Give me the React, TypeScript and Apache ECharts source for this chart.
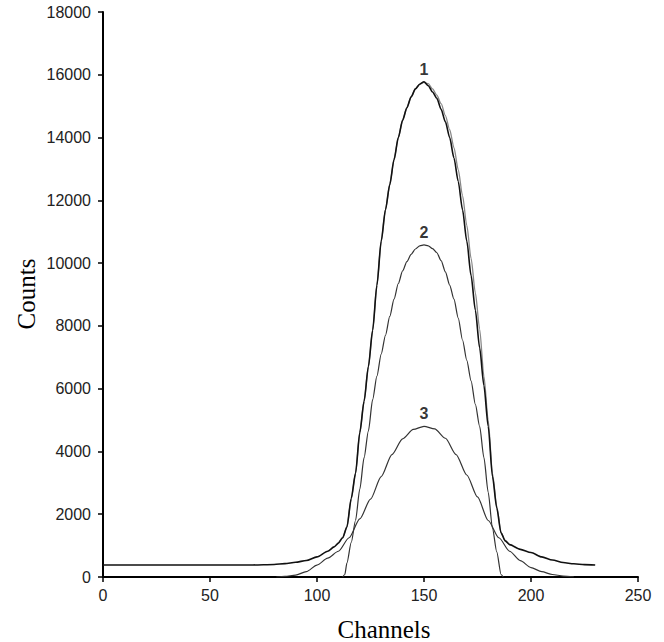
import React, { useEffect, useRef } from "react";
import * as echarts from "echarts";

const xTicks = [0, 50, 100, 150, 200, 250];
const yTicks = [0, 2000, 4000, 6000, 8000, 10000, 12000, 14000, 16000, 18000];

const channels1 = [0, 10, 20, 30, 40, 50, 60, 70, 80, 85, 90, 95, 100, 105, 108, 110, 112, 114, 116, 118, 120, 122, 124, 126, 128, 130, 132, 134, 136, 138, 140, 142, 144, 146, 148, 150, 152, 154, 156, 158, 160, 162, 164, 166, 168, 170, 172, 174, 176, 178, 180, 182, 184, 186, 188, 190, 195, 200, 205, 210, 215, 220, 225, 230];
const counts1 = [380, 380, 380, 380, 380, 380, 381, 384, 400, 425, 470, 525, 640, 820, 960, 1080, 1250, 1600, 2500, 3300, 4600, 5600, 6700, 7860, 9300, 10700, 11700, 12500, 13300, 14000, 14550, 14950, 15300, 15550, 15700, 15780, 15650, 15450, 15250, 14900, 14500, 14000, 13350, 12600, 11700, 10700, 9600, 8500, 7300, 6100, 4800, 3200, 2200, 1400, 1150, 1030, 880, 780, 640, 540, 460, 420, 395, 382];

const channels1b = [110, 112, 114, 116, 118, 120, 122, 124, 126, 128, 130, 132, 134, 136, 138, 140, 142, 144, 146, 148, 150, 152, 154, 156, 158, 160, 162, 164, 166, 168, 170, 172, 174, 176, 178, 180, 182, 184, 186, 188, 190];
const counts1b = [1080, 1250, 1600, 2500, 3300, 4600, 5600, 6700, 7860, 9300, 10700, 11700, 12500, 13300, 14000, 14550, 14950, 15300, 15550, 15700, 15760, 15715, 15550, 15350, 15080, 14700, 14250, 13680, 12980, 12150, 11200, 10150, 9050, 7900, 6400, 5000, 3300, 2250, 1420, 1150, 1030];

const channels2 = [112, 113, 114, 116, 118, 120, 122, 124, 126, 128, 130, 132, 134, 136, 138, 140, 142, 144, 146, 148, 150, 152, 154, 156, 158, 160, 162, 164, 166, 168, 170, 172, 174, 176, 178, 180, 182, 184, 186, 187];
const counts2 = [0, 80, 450, 1100, 1800, 2800, 3800, 4650, 5650, 6400, 7100, 7700, 8300, 8850, 9350, 9750, 10050, 10280, 10450, 10550, 10580, 10550, 10460, 10330, 10080, 9720, 9300, 8850, 8250, 7550, 6900, 6250, 5500, 4800, 3800, 2700, 1550, 800, 80, 0];

const channels3 = [81, 85, 90, 95, 100, 105, 110, 115, 120, 125, 130, 135, 140, 145, 150, 155, 160, 165, 170, 175, 180, 185, 190, 195, 200, 205, 210, 215, 220];
const counts3 = [0, 20, 60, 170, 380, 600, 820, 1250, 1850, 2480, 3200, 3900, 4400, 4700, 4800, 4720, 4420, 3900, 3250, 2550, 1800, 1250, 820, 520, 300, 170, 80, 30, 5];

const peakChannels = [150, 150, 150];
const peakCounts = [15780, 10580, 4800];
const peakNames = ["1", "2", "3"];

const zip = (xs: number[], ys: number[]) => xs.map((x, i) => [x, ys[i]]);

export default function App() {
  const ref = useRef<HTMLDivElement>(null);
  useEffect(() => {
    if (!ref.current) return;
    const chart = echarts.init(ref.current, null, { renderer: "svg" });
    const tickFont = { color: "#222", fontSize: 16, fontFamily: "'Liberation Sans', Arial, sans-serif" };
    const curve = (xs: number[], ys: number[], color: string, width: number) => ({
      type: "line",
      data: zip(xs, ys),
      showSymbol: false,
      smooth: 0.25,
      smoothMonotone: "x",
      lineStyle: { color, width },
    });
    chart.setOption({
      animation: false,
      backgroundColor: "#fff",
      grid: { left: 103, right: 26, top: 12, bottom: 65 },
      xAxis: {
        type: "value",
        min: xTicks[0],
        max: xTicks[xTicks.length - 1],
        interval: 50,
        axisLine: { show: true, lineStyle: { color: "#000", width: 2 } },
        axisTick: { show: true, length: 5, lineStyle: { color: "#000", width: 1.5 } },
        axisLabel: { ...tickFont, margin: 10, formatter: (v: number) => String(v) },
        splitLine: { show: false },
      },
      yAxis: {
        type: "value",
        min: yTicks[0],
        max: yTicks[yTicks.length - 1],
        interval: 2000,
        axisLine: { show: true, lineStyle: { color: "#000", width: 2 } },
        axisTick: { show: true, length: 5, lineStyle: { color: "#000", width: 1.5 } },
        axisLabel: { ...tickFont, margin: 12, formatter: (v: number) => String(v) },
        splitLine: { show: false },
      },
      series: [
        curve(channels3, counts3, "#333", 1.2),
        curve(channels2, counts2, "#333", 1.2),
        curve(channels1b, counts1b, "#888", 1.3),
        curve(channels1, counts1, "#111", 1.6),
        {
          type: "scatter",
          data: peakChannels.map((c, i) => [c, peakCounts[i], peakNames[i]]),
          symbolSize: 1,
          itemStyle: { color: "rgba(0,0,0,0)" },
          label: {
            show: true,
            position: "top",
            distance: 4,
            formatter: (p: any) => p.value[2],
            color: "#000",
            fontSize: 16,
            fontWeight: "bold",
            fontFamily: "'Liberation Sans', Arial, sans-serif",
          },
        },
      ],
      graphic: [
        {
          type: "text",
          x: 26,
          y: 294,
          rotation: Math.PI / 2,
          style: {
            text: "Counts",
            font: "25px 'Liberation Serif', 'Times New Roman', serif",
            fill: "#000",
            textAlign: "center",
            textVerticalAlign: "middle",
          },
        },
        {
          type: "text",
          x: 384,
          y: 629,
          style: {
            text: "Channels",
            font: "25px 'Liberation Serif', 'Times New Roman', serif",
            fill: "#000",
            textAlign: "center",
            textVerticalAlign: "middle",
          },
        },
      ],
    });
    return () => chart.dispose();
  }, []);
  return (
    <div
      ref={ref}
      style={{ position: "absolute", left: 0, top: 0, width: 664, height: 642 }}
    />
  );
}
